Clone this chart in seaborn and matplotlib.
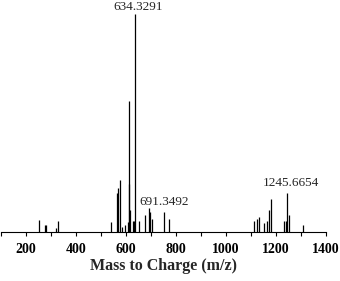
import matplotlib
matplotlib.use("Agg")
import matplotlib.pyplot as plt
import seaborn as sns
from matplotlib.ticker import MultipleLocator

# peak list (m/z, relative intensity %)
mz = [253, 276, 280, 320, 328, 540, 563, 569, 576, 583, 597, 606, 610, 613,
      616, 626, 630, 634.3291, 653, 675, 691.3492, 695, 703, 750, 773,
      1113, 1122, 1132, 1152, 1163, 1172, 1181, 1233, 1240, 1245.6654,
      1250, 1306]
intensity = [5.5, 3, 3, 2, 5, 4.4, 18, 20, 24, 2.5, 3, 4.4, 60, 22,
             10, 5, 5, 100, 5, 8, 11, 9, 6, 9, 6,
             5, 6, 7, 4, 5, 10, 15, 5, 5, 18, 8, 3]

labels = ["634.3291", "691.3492", "1245.6654"]
label_mz = [634.3291, 691.3492, 1245.6654]
label_int = [100, 11, 18]

sns.set_style("ticks")
plt.rcParams["font.family"] = ["Liberation Serif", "DejaVu Serif"]

fig = plt.figure(figsize=(3.4, 2.81), dpi=100)
ax = fig.add_axes([1 / 340, 49 / 281, 325 / 340, 218 / 281])

ax.vlines(mz, 0, intensity, color="black", linewidth=0.9)

# annotations (offsets in pixels)
offsets = [(4, 1), (15, 0), (3, 4)]
for txt, x, y, off in zip(labels, label_mz, label_int, offsets):
    ax.annotate(txt, xy=(x, y), xytext=off, textcoords="offset pixels",
                ha="center", va="bottom", fontsize=9.5, annotation_clip=False)

ax.set_xlim(100, 1400)
ax.set_ylim(0, 100)
ax.xaxis.set_major_locator(MultipleLocator(200))
ax.xaxis.set_minor_locator(MultipleLocator(100))
ax.tick_params(axis="x", which="both", direction="out", length=3, width=0.8,
               colors="black", pad=5)
for lab in ax.get_xticklabels():
    lab.set_fontweight("bold")
    lab.set_fontsize(10)
ax.set_yticks([])
sns.despine(ax=ax, left=True, top=True, right=True)
ax.spines["bottom"].set_linewidth(0.8)
ax.spines["bottom"].set_color("black")
ax.set_xlabel("Mass to Charge (m/z)", fontweight="bold", fontsize=11.5, labelpad=1)
ax.set_ylabel("")
ax.patch.set_alpha(0)

fig.savefig("out.png", dpi=100)
